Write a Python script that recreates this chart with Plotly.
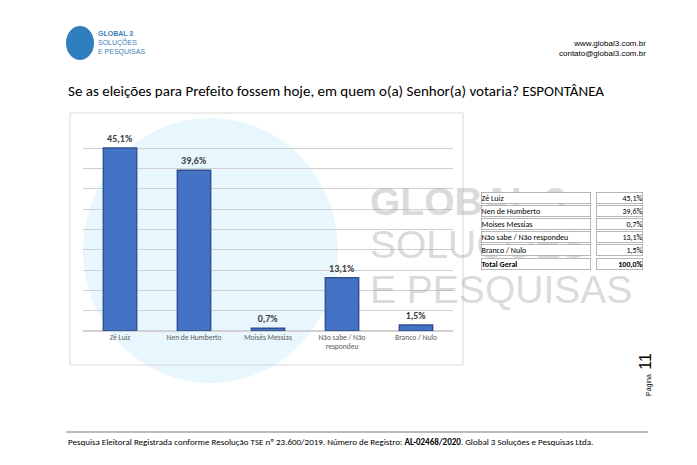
import plotly.graph_objects as go

categories = ["Zé Luiz", "Nen de Humberto", "Moisés Messias", "Não sabe / Não<br>respondeu", "Branco / Nulo"]
values = [45.1, 39.6, 0.7, 13.1, 1.5]
labels = ["45,1%", "39,6%", "0,7%", "13,1%", "1,5%"]
table_names = ["Zé Luiz", "Nen de Humberto", "Moises Messias", "Não sabe / Não respondeu", "Branco / Nulo", "<b>Total Geral</b>"]
table_vals = ["45,1%", "39,6%", "0,7%", "13,1%", "1,5%", "<b>100,0%</b>"]

W, H = 697, 465
def px(x): return x / W
def py(y): return 1 - y / H

fig = go.Figure()
fig.add_trace(go.Bar(x=categories, y=values, text=[f"<b>{t}</b>" for t in labels], textposition="outside",
                     textfont=dict(size=10, color="#404040", family="Carlito, Liberation Sans"),
                     marker=dict(color="#4472C4", line=dict(color="#2F528F", width=1.5)),
                     cliponaxis=False))

# watermark
for txt, y, wgt in [("GLOBAL 3", 193, "bold"), ("SOLUÇÕES", 237, "normal"), ("E PESQUISAS", 281, "normal")]:
    fig.add_annotation(x=px(360), y=py(y), xref="paper", yref="paper", xanchor="left", yanchor="middle",
                       text=txt if wgt == "normal" else f"<b>{txt}</b>", showarrow=False,
                       font=dict(size=39, color="rgba(160,160,160,0.4)", family="Liberation Sans"))

# table as bordered cells
x0, wn, wv, top, rh = 473, 115, 52, 183, 13.2
for i, (n, v) in enumerate(zip(table_names, table_vals)):
    yc = top + rh * (i + 0.5)
    fig.add_annotation(x=px(x0), y=py(yc), xref="paper", yref="paper", xanchor="left", yanchor="middle",
                       text=n, showarrow=False, width=wn - 6, height=rh - 2, align="left",
                       bgcolor="white", bordercolor="#888", borderwidth=0.6, borderpad=0,
                       font=dict(size=8, color="black", family="Carlito, Liberation Sans"))
    fig.add_annotation(x=px(x0 + wn), y=py(yc), xref="paper", yref="paper", xanchor="left", yanchor="middle",
                       text=v, showarrow=False, width=wv - 6, height=rh - 2, align="right",
                       bgcolor="white", bordercolor="#888", borderwidth=0.6, borderpad=0,
                       font=dict(size=8, color="black", family="Carlito, Liberation Sans"))

fig.add_annotation(x=px(58), y=py(83), xref="paper", yref="paper", xanchor="left", yanchor="middle",
                   text="Se as eleições para Prefeito fossem hoje, em quem o(a) Senhor(a) votaria? ESPONTÂNEA",
                   showarrow=False, font=dict(size=15, color="black", family="Carlito, Liberation Sans"))
fig.add_annotation(x=px(640), y=py(41), xref="paper", yref="paper", xanchor="right", yanchor="middle",
                   text="www.global3.com.br<br>contato@global3.com.br", align="right",
                   showarrow=False, font=dict(size=8, color="black", family="Liberation Sans"))
fig.add_annotation(x=px(88), y=py(35), xref="paper", yref="paper", xanchor="left", yanchor="middle",
                   text="<b>GLOBAL 3</b><br>SOLUÇÕES<br>E PESQUISAS", align="left",
                   showarrow=False, font=dict(size=7, color="#3c7fb8", family="Liberation Sans"))
fig.add_annotation(x=px(58), y=py(433), xref="paper", yref="paper", xanchor="left", yanchor="middle",
                   text="Pesquisa Eleitoral Registrada conforme Resolução TSE nº 23.600/2019. Número de Registro: <b>AL-02468/2020</b>. Global 3 Soluções e Pesquisas Ltda.",
                   showarrow=False, font=dict(size=9, color="black", family="Carlito, Liberation Sans"))
fig.add_annotation(x=px(648), y=py(390), xref="paper", yref="paper", textangle=-90,
                   text="<span style='font-size:7px'>Página</span> 11", showarrow=False,
                   font=dict(size=16, color="black", family="Liberation Sans"))

fig.add_shape(type="circle", xref="paper", yref="paper", x0=px(58), x1=px(86), y0=py(52), y1=py(18),
              fillcolor="#2f7fc0", line=dict(width=0))
fig.add_shape(type="line", xref="paper", yref="paper", x0=px(58), x1=px(640), y0=py(424), y1=py(424),
              line=dict(color="#555", width=0.8))
fig.add_shape(type="circle", xref="paper", yref="paper", x0=px(75), x1=px(330), y0=py(375), y1=py(110),
              fillcolor="rgba(180,230,250,0.3)", line=dict(width=0), layer="below")

fig.update_layout(width=W, height=H, margin=dict(l=0, r=0, t=0, b=0),
                  paper_bgcolor="white", plot_bgcolor="rgba(0,0,0,0)", showlegend=False,
                  xaxis=dict(domain=[px(75), px(445)], anchor="y", showline=False,
                             tickfont=dict(size=7.5, color="#595959", family="Carlito, Liberation Sans")),
                  yaxis=dict(domain=[py(323), py(120)], range=[0, 50], dtick=5, showticklabels=False,
                             gridcolor="#d0d0d0", zeroline=True, zerolinecolor="#d0d0d0"),
                  bargap=0.55)
fig.add_shape(type="rect", xref="paper", yref="paper", x0=px(62), x1=px(455), y0=py(357), y1=py(105),
              line=dict(color="#d9d9d9", width=1))
fig.write_html("out.html")
